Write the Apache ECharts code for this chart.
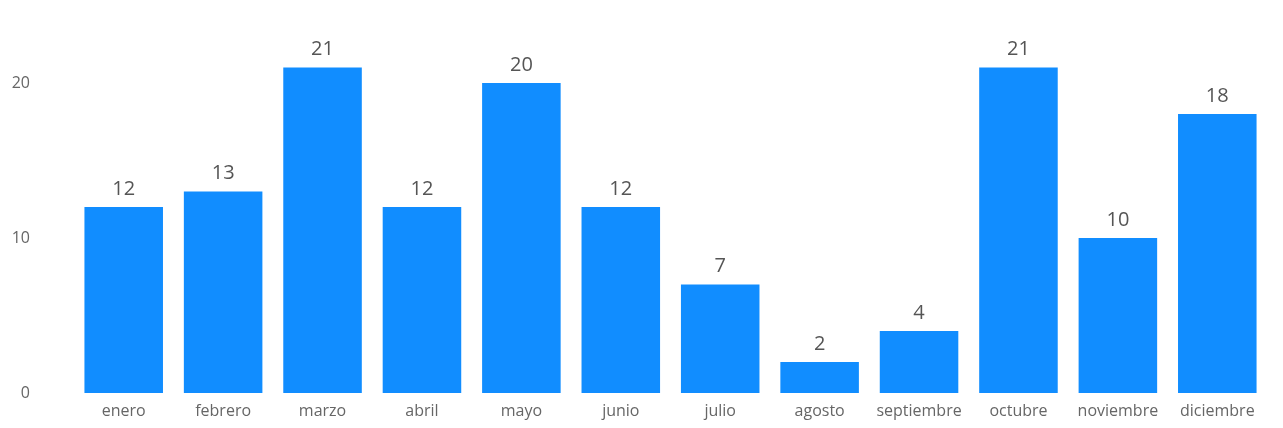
<!DOCTYPE html>
<html><head><meta charset="utf-8">
<script src="https://cdn.jsdelivr.net/npm/echarts@6/dist/echarts.min.js"></script>
<style>html,body{margin:0;padding:0;background:#fff}#c{width:1283px;height:428px}</style>
</head><body><div id="c"></div>
<script>
const months = ['enero','febrero','marzo','abril','mayo','junio','julio','agosto','septiembre','octubre','noviembre','diciembre'];
const values = [12,13,21,12,20,12,7,2,4,21,10,18];
const yTicks = [0,10,20];
const chart = echarts.init(document.getElementById('c'));
chart.setOption({
  animation:false,
  grid:{left:74,right:16,top:5.5,bottom:35,containLabel:false},
  xAxis:{type:'category',data:months,
    axisLine:{show:false},axisTick:{show:false},
    axisLabel:{interval:0,hideOverlap:false,color:'#666',fontSize:16,fontFamily:'Open Sans',margin:10}},
  yAxis:{type:'value',min:0,max:25,interval:10,
    splitLine:{show:false},axisLine:{show:false},axisTick:{show:false},
    axisLabel:{color:'#666',fontSize:16,fontFamily:'Open Sans',margin:44,
      formatter:v=>yTicks.includes(v)?String(v):''}},
  series:[{type:'bar',data:values,barCategoryGap:'21%',
    itemStyle:{color:'#118DFF'},
    label:{show:true,position:'top',color:'#555',fontSize:20,fontFamily:'Open Sans',distance:8}}]
});
</script></body></html>
